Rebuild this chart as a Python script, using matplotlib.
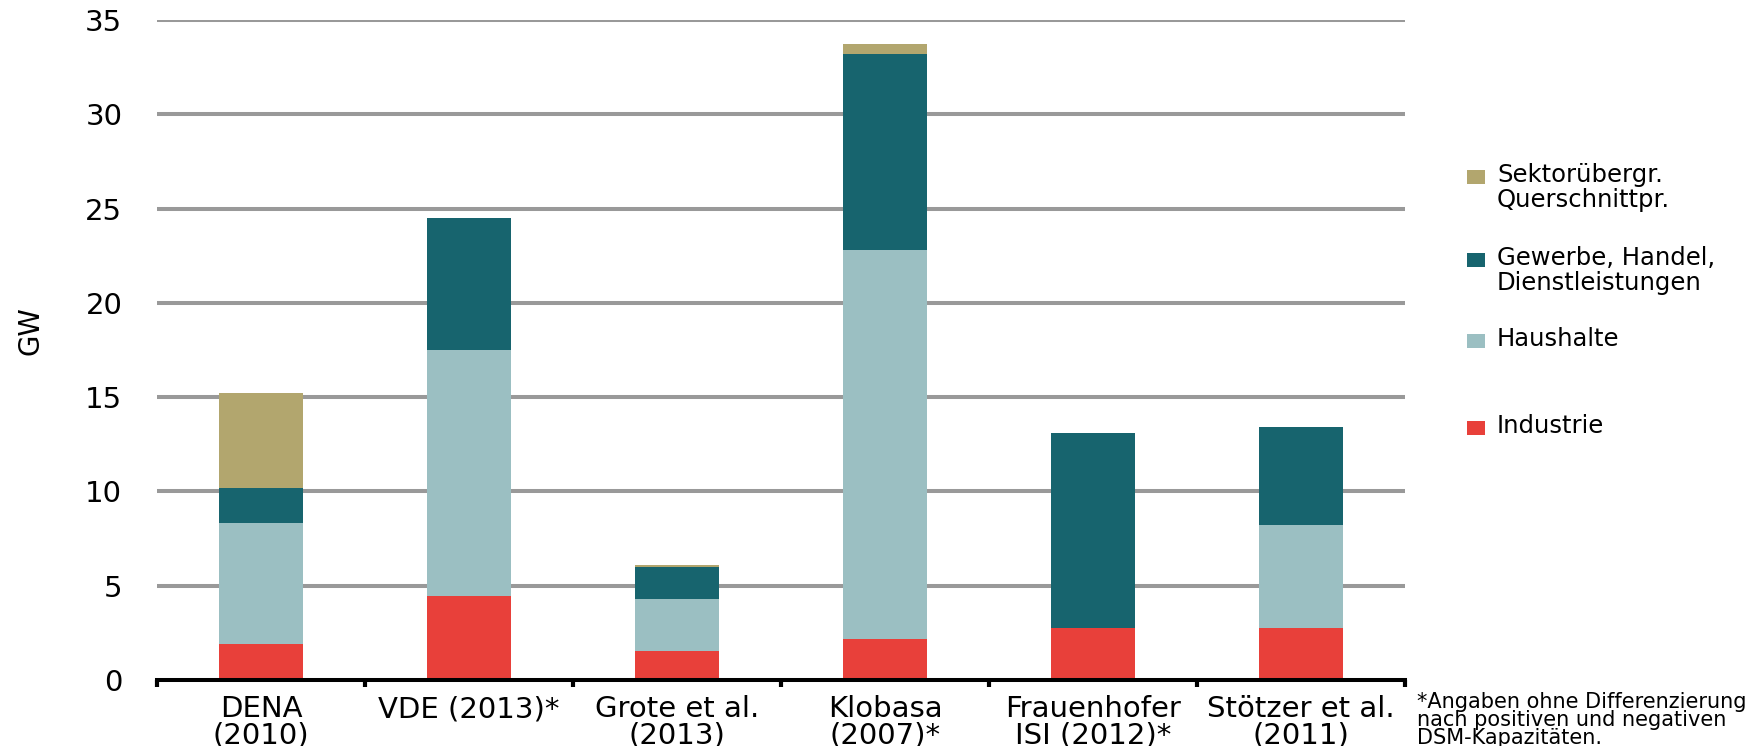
import matplotlib
matplotlib.use('Agg')
import matplotlib.pyplot as plt
import numpy as np
from matplotlib.patches import Rectangle

plt.rcParams['font.family'] = ['DejaVu Sans']

studies = ['DENA\n(2010)', 'VDE (2013)*', 'Grote et al.\n(2013)',
           'Klobasa\n(2007)*', 'Frauenhofer\nISI (2012)*', 'Stötzer et al.\n(2011)']
industrie = [1.9, 4.45, 1.55, 2.15, 2.75, 2.75]
haushalte = [6.45, 13.05, 2.75, 20.65, 0.0, 5.45]
gewerbe = [1.85, 7.0, 1.7, 10.4, 10.35, 5.2]
sektor = [5.0, 0.0, 0.1, 0.55, 0.0, 0.0]

series = [
    ('Industrie', industrie, '#e8403a'),
    ('Haushalte', haushalte, '#9bbfc2'),
    ('Gewerbe, Handel,\nDienstleistungen', gewerbe, '#17646e'),
    ('Sektorübergr.\nQuerschnittpr.', sektor, '#b2a66e'),
]

W, H = 1750, 746
fig = plt.figure(figsize=(W / 100, H / 100), dpi=100)
ax = fig.add_axes([157 / W, 1 - 680 / H, 1248 / W, 660 / H])

x = np.arange(len(studies))
bottom = np.zeros(len(studies))
for name, vals, color in series:
    ax.bar(x, vals, width=0.40, bottom=bottom, color=color, zorder=3)
    bottom += np.array(vals)

ax.set_xlim(-0.5, len(studies) - 0.5)
ax.set_ylim(0, 35)
ax.set_yticks(np.arange(0, 36, 5))
for y in np.arange(5, 36, 5):
    ax.axhline(y, color='#999999', lw=2.9, zorder=1)

for s in ['top', 'right', 'left']:
    ax.spines[s].set_visible(False)
ax.spines['bottom'].set_linewidth(2.9)
ax.spines['bottom'].set_zorder(4)

ax.set_xticks(x)
ax.set_xticklabels(studies, fontsize=21, linespacing=0.92)
ax.tick_params(axis='x', which='major', length=0, pad=11)
ax.set_xticks(np.arange(-0.5, len(studies)), minor=True)
ax.tick_params(axis='x', which='minor', length=5, width=3, direction='out', color='black')
ax.tick_params(axis='y', length=0, pad=25, labelsize=21)

ax.set_ylabel('GW', fontsize=20)
ax.yaxis.set_label_coords(-0.09, 0.53)

# legend: square aligned with the first line of each label
legend_y = [428, 341, 260, 177]
for (name, _, color), yc in zip(series, legend_y):
    fig.add_artist(Rectangle((1467 / W, 1 - (yc + 7) / H), 18 / W, 14 / H,
                             transform=fig.transFigure, facecolor=color, edgecolor='none'))
    fig.text(1497 / W, 1 - (yc - 14) / H, name, fontsize=17.5, ha='left', va='top',
             linespacing=1.05)

fig.text(1417 / W, 1 - 692 / H, '*Angaben ohne Differenzierung\nnach positiven und negativen\nDSM-Kapazitäten.',
         fontsize=15, va='top', ha='left', linespacing=0.88)

fig.savefig('out.png', dpi=100)
